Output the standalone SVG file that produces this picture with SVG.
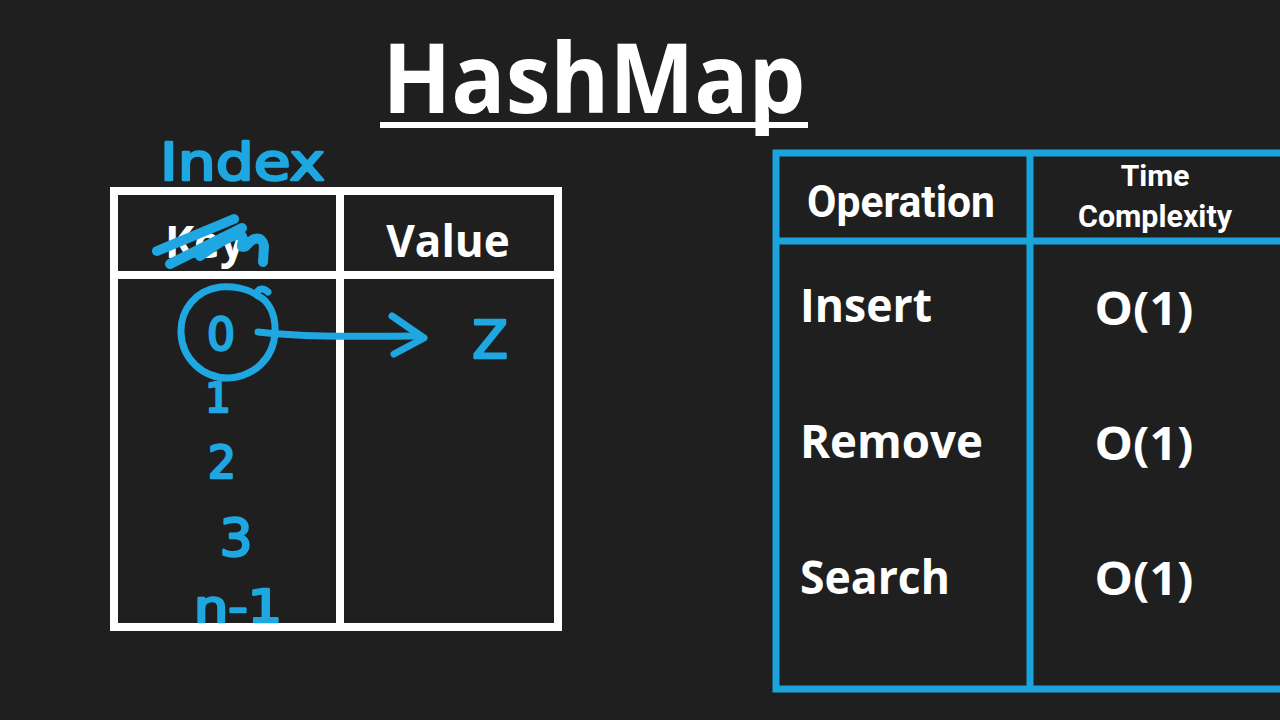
<svg xmlns="http://www.w3.org/2000/svg" width="1280" height="720" viewBox="0 0 1280 720">
<style>
.bg{fill:#1f1f1f}
.wline{stroke:#ffffff;stroke-width:8;fill:none}
.bline{stroke:#1ba3dc;stroke-width:7;fill:none}
.hdr{font-family:"Open Sans","Noto Sans",sans-serif;font-weight:bold;fill:#ffffff}
.cond{font-family:Roboto,"Liberation Sans",sans-serif;font-weight:bold;fill:#ffffff}
.ink{font-family:"DejaVu Sans","Noto Sans",sans-serif;fill:#1ea7e0;stroke:#1ea7e0;stroke-width:2.5;stroke-linejoin:round}
.stroke{stroke:#1ea7e0;stroke-width:7;fill:none;stroke-linecap:round;stroke-linejoin:round}
.scrib{stroke:#1ea7e0;stroke-width:10;fill:none;stroke-linecap:round;stroke-linejoin:round}
</style>
<rect class="bg" x="0" y="0" width="1280" height="720"/>

<g id="title">
  <text class="hdr" x="594" y="113" font-size="96" text-anchor="middle" textLength="423" lengthAdjust="spacingAndGlyphs">HashMap</text>
  <rect x="380" y="122" width="428" height="6" fill="#ffffff"/>
</g>

<g id="hashmap-table">
  <rect class="wline" x="114" y="191" width="444" height="436"/>
  <line class="wline" x1="114" y1="275" x2="558" y2="275"/>
  <line class="wline" x1="340" y1="191" x2="340" y2="627"/>
  <text class="hdr" x="205" y="258" font-size="44" text-anchor="middle">Key</text>
  <text class="hdr" x="448" y="257" font-size="44" text-anchor="middle">Value</text>
</g>

<g id="annotations">
  <text class="ink" x="160" y="180" font-size="52" textLength="165" lengthAdjust="spacingAndGlyphs">Index</text>
  <path class="scrib" d="M157 251 L234 219 M170 264 L242 228 M200 256 C214 246 228 236 240 234 C248 240 236 250 246 246 C254 236 262 236 264 246 L263 262"/>
  <path class="stroke" d="M258 296 C248 288 232 286 220 287 C196 290 180 310 181 333 C182 358 202 378 228 378 C254 377 274 358 275 332 C276 314 268 300 258 296 C255 290 262 286 268 292"/>
  <text class="ink" x="221" y="350" font-size="44" text-anchor="middle">0</text>
  <g id="connectors">
    <path class="stroke" d="M258 332 C310 338 370 336 420 336"/>
    <path class="stroke" d="M392 316 L424 338 L394 354"/>
  </g>
  <text class="ink" x="490" y="358" font-size="52" text-anchor="middle">Z</text>
  <text class="ink" x="218" y="412" font-size="40" text-anchor="middle">1</text>
  <text class="ink" x="222" y="478" font-size="44" text-anchor="middle">2</text>
  <text class="ink" x="236" y="556" font-size="52" text-anchor="middle">3</text>
  <text class="ink" x="238" y="622" font-size="44" text-anchor="middle" textLength="88" lengthAdjust="spacingAndGlyphs">n-1</text>
</g>

<g id="complexity-table">
  <rect class="bline" x="776" y="153" width="520" height="536"/>
  <line class="bline" x1="776" y1="241" x2="1280" y2="241" stroke-width="6"/>
  <line class="bline" x1="1030" y1="153" x2="1030" y2="689"/>
  <text class="cond" x="901" y="217" font-size="44" text-anchor="middle" textLength="188" lengthAdjust="spacingAndGlyphs">Operation</text>
  <text class="cond" x="1155" y="186" font-size="30" text-anchor="middle">Time</text>
  <text class="cond" x="1155" y="227" font-size="31" text-anchor="middle" textLength="154" lengthAdjust="spacingAndGlyphs">Complexity</text>
</g>

<g id="row-insert">
  <text class="hdr" x="800" y="322" font-size="46" textLength="132" lengthAdjust="spacingAndGlyphs">Insert</text>
  <text class="hdr" x="1144" y="325" font-size="46" text-anchor="middle" textLength="99" lengthAdjust="spacingAndGlyphs">O(1)</text>
</g>
<g id="row-remove">
  <text class="hdr" x="800" y="458" font-size="46" textLength="183" lengthAdjust="spacingAndGlyphs">Remove</text>
  <text class="hdr" x="1144" y="460" font-size="46" text-anchor="middle" textLength="99" lengthAdjust="spacingAndGlyphs">O(1)</text>
</g>
<g id="row-search">
  <text class="hdr" x="800" y="594" font-size="46" textLength="150" lengthAdjust="spacingAndGlyphs">Search</text>
  <text class="hdr" x="1144" y="595" font-size="46" text-anchor="middle" textLength="99" lengthAdjust="spacingAndGlyphs">O(1)</text>
</g>
</svg>
